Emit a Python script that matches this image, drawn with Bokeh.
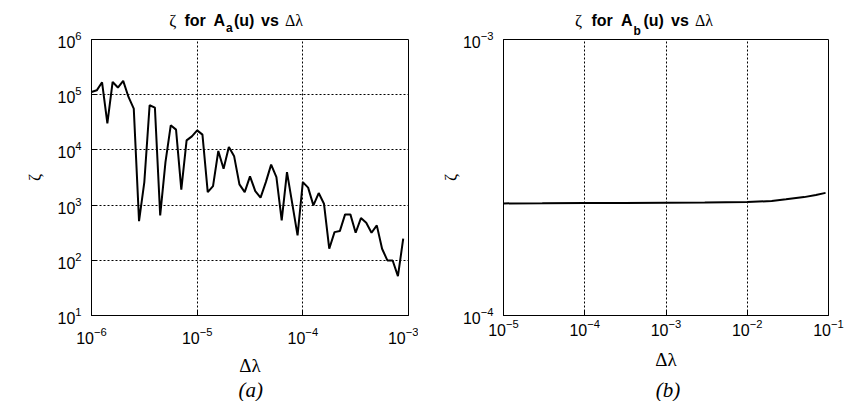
from bokeh.plotting import figure
from bokeh.models import Range1d, FixedTicker, GridBox
from bokeh.layouts import row
from bokeh.core.properties import value
from bokeh.embed import file_html
from bokeh.resources import INLINE

# ---------------- data (panel a) ----------------
delta_a = [1.000e-6, 1.122e-6, 1.259e-6, 1.413e-6, 1.585e-6, 1.778e-6, 1.995e-6, 2.239e-6, 2.512e-6, 2.818e-6,
           3.162e-6, 3.548e-6, 3.981e-6, 4.467e-6, 5.012e-6, 5.623e-6, 6.310e-6, 7.079e-6, 7.943e-6, 8.913e-6,
           1.000e-5, 1.122e-5, 1.259e-5, 1.413e-5, 1.585e-5, 1.778e-5, 1.995e-5, 2.239e-5, 2.512e-5, 2.818e-5,
           3.162e-5, 3.548e-5, 3.981e-5, 4.467e-5, 5.012e-5, 5.623e-5, 6.310e-5, 7.079e-5, 7.943e-5, 8.913e-5,
           1.000e-4, 1.122e-4, 1.259e-4, 1.413e-4, 1.585e-4, 1.778e-4, 1.995e-4, 2.239e-4, 2.512e-4, 2.818e-4,
           3.162e-4, 3.548e-4, 3.981e-4, 4.467e-4, 5.012e-4, 5.623e-4, 6.310e-4, 7.079e-4, 7.943e-4, 8.913e-4]
zeta_a = [1.12e5, 1.20e5, 1.68e5, 3.03e4, 1.70e5, 1.35e5, 1.78e5, 9.1e4, 5.6e4, 513,
          2610, 6.43e4, 5.85e4, 651, 6030, 2.79e4, 2.33e4, 1905, 1.49e4, 1.76e4,
          2.26e4, 1.89e4, 1722, 2213, 9550, 4570, 1.13e4, 7650, 2377, 1722,
          3320, 1795, 1364, 2610, 5410, 3220, 528, 3970, 1061, 282,
          2610, 2070, 988, 1652, 1061, 162, 324, 338, 679, 679,
          316, 582, 480, 316, 429, 162, 99.4, 99.4, 51.6, 246]

# ---------------- data (panel b) ----------------
delta_b = [1e-5, 3e-5, 1e-4, 3e-4, 1e-3, 3e-3, 1e-2, 2e-2, 3e-2, 5e-2, 7e-2, 9.2e-2]
zeta_b = [2.548e-4, 2.550e-4, 2.555e-4, 2.558e-4, 2.562e-4, 2.568e-4, 2.577e-4, 2.60e-4, 2.635e-4,
          2.685e-4, 2.735e-4, 2.782e-4]

xticks_a = [1e-6, 1e-5, 1e-4, 1e-3]
yticks_a = [1e1, 1e2, 1e3, 1e4, 1e5, 1e6]
xticks_b = [1e-5, 1e-4, 1e-3, 1e-2, 1e-1]
yticks_b = [1e-4, 1e-3]

title_parts_a = ["ζ", "for", "A", "a", "(u)", "vs", "Δλ"]
title_parts_b = ["ζ", "for", "A", "b", "(u)", "vs", "Δλ"]
panel_tags = ["(a)", "(b)"]

SANS = "Liberation Sans"
SERIF = "Liberation Serif"
W, H = 844, 401


def make_panel(x, y, xr, yr, xt, yt, width, borders, xstand, xlstand, ystand):
    bl, br, bt, bb = borders
    p = figure(width=width, height=H, x_axis_type="log", y_axis_type="log",
               x_range=Range1d(*xr), y_range=Range1d(*yr),
               min_border_left=bl, min_border_right=br, min_border_top=bt, min_border_bottom=bb,
               output_backend="svg", toolbar_location=None)
    p.background_fill_color = "white"
    p.border_fill_color = "white"
    p.outline_line_color = "black"
    p.outline_line_alpha = 1
    p.outline_line_width = 1

    p.line(x, y, line_color="black", line_width=2)

    p.xaxis.ticker = FixedTicker(ticks=xt)
    p.yaxis.ticker = FixedTicker(ticks=yt)
    p.xgrid.ticker = FixedTicker(ticks=xt)
    p.ygrid.ticker = FixedTicker(ticks=yt)
    for g in (p.xgrid, p.ygrid):
        g.grid_line_color = "black"
        g.grid_line_dash = "2 2"
        g.grid_line_width = 1
        g.grid_line_alpha = 1

    for ax in (p.xaxis, p.yaxis):
        ax.axis_line_color = "black"
        ax.major_tick_in = 5
        ax.major_tick_out = 0
        ax.major_tick_line_color = "black"
        ax.minor_tick_line_color = None
        ax.major_label_text_font = SANS
        ax.major_label_text_font_size = "16px"
        ax.major_label_text_color = "black"
        ax.axis_label_text_font = SERIF
        ax.axis_label_text_font_style = "normal"
        ax.axis_label_text_color = "black"

    p.xaxis.axis_label = "Δλ"
    p.xaxis.axis_label_text_font_size = "19px"
    p.xaxis.major_label_standoff = xstand
    p.xaxis.axis_label_standoff = xlstand
    p.yaxis.axis_label = "ζ"
    p.yaxis.axis_label_text_font_size = "17px"
    p.yaxis.major_label_standoff = 10
    p.yaxis.axis_label_standoff = ystand
    return p


# page coordinates: frame a = x 91..408, y 39..315 ; frame b = x 503..828, y 35..318
pa = make_panel(delta_a, zeta_a, (1e-6, 1e-3), (1e1, 1e6), xticks_a, yticks_a,
                418, (91, 10, 39, 86), 11, 8, 10)
pb = make_panel(delta_b, zeta_b, (1e-5, 1e-1), (1e-4, 1e-3), xticks_b, yticks_b,
                426, (85, 16, 35, 83), 3, 10, 0)

# transparent overlay carrying the panel titles and the (a)/(b) tags
ov = figure(width=W, height=H, x_range=Range1d(0, W), y_range=Range1d(H, 0), title=None,
            min_border=0, min_border_left=0, min_border_right=0, min_border_top=0, min_border_bottom=0,
            x_axis_location=None, y_axis_location=None,
            output_backend="svg", toolbar_location=None)
ov.background_fill_color = None
ov.border_fill_color = None
ov.outline_line_color = None
ov.xgrid.visible = False
ov.ygrid.visible = False


def put(txt, x, y, font, size, style, align):
    ov.text(x=[x], y=[y], text=[txt], text_font=value(font), text_font_size=value(size),
            text_font_style=style, text_align=align, text_baseline="alphabetic",
            text_color="black")


# left edges of the title pieces, baselines (page pixels)
for parts, xs, base, subbase in (
        (title_parts_a, (168.8, 184.0, 213.0, 225.5, 233.5, 260.5, 284.5), 20.0, 27.7),
        (title_parts_b, (574.5, 591.0, 620.5, 633.0, 643.0, 670.5, 694.5), 20.3, 30.5)):
    put(parts[0], xs[0], base, SERIF, "17px", "normal", "left")
    put(parts[1], xs[1], base, SANS, "16px", "bold", "left")
    put(parts[2], xs[2], base, SANS, "16px", "bold", "left")
    put(parts[3], xs[3], subbase, SANS, "12px", "bold", "left")
    put(parts[4], xs[4], base, SANS, "16px", "bold", "left")
    put(parts[5], xs[5], base, SANS, "16px", "bold", "left")
    put(parts[6], xs[6], base, SERIF, "16px", "normal", "left")

put(panel_tags[0], 250.3, 389.0, SERIF, "21px", "italic", "center")
put(panel_tags[1], 667.5, 389.0, SERIF, "21px", "italic", "center")

panels = row(pa, pb, spacing=0)
layout = GridBox(children=[(panels, 0, 0), (ov, 0, 0)], spacing=0, width=W, height=H,
                 rows=f"{H}px", cols=f"{W}px")
open("out.html", "w").write(file_html(layout, INLINE))
